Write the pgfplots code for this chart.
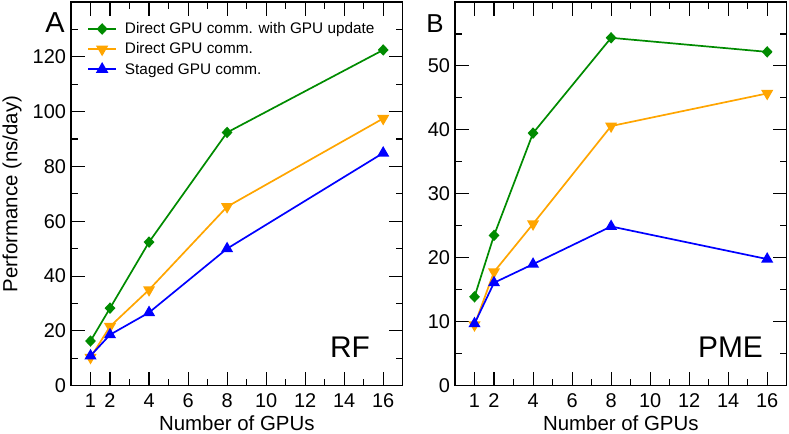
\documentclass[border=0pt]{standalone}
\usepackage{pgfplots}
\pgfplotsset{compat=1.18}
\usepackage{fontspec}
\setmainfont{Liberation Sans}
\definecolor{ggreen}{RGB}{0,139,0}
\definecolor{gorange}{RGB}{255,165,0}
\definecolor{gblue}{RGB}{0,0,255}
\pgfplotsset{
  myaxis/.style={
    scale only axis, width=331.7bp, height=383.7bp,
    anchor=south west,
    xmin=0, xmax=17,
    xtick={1,2,4,6,8,10,12,14,16}, minor xtick={3,5,7,9,11,13,15},
    major tick length=14bp, minor tick length=7bp,
    tick style={black, line width=1.1bp},
    axis line style={black, line width=1.3bp},
    /pgf/number format/assume math mode=true,
    tick label style={font=\fontsize{20}{23}\selectfont},
    xticklabel style={yshift=-4.4bp},
    yticklabel style={xshift=-1.5bp},
    label style={font=\fontsize{20.5}{24}\selectfont},
    xlabel={Number of GPUs},
    xlabel style={at={(rel axis cs:0.5,0)}, anchor=base, yshift=-44.3bp},
    every axis plot/.append style={line width=1.7bp},
  },
  gser/.style={color=ggreen, mark=diamond*, mark size=4.5bp, mark options={solid, xscale=1.25}},
  oser/.style={color=gorange, mark=triangle*, mark size=5.3bp, mark options={solid, rotate=180}},
  bser/.style={color=gblue, mark=triangle*, mark size=5.3bp, mark options={solid}},
}
\begin{document}
\begin{tikzpicture}
\useasboundingbox (0,0) rectangle (789bp,434bp);
\begin{axis}[myaxis, at={(71bp,48.3bp)},
  ymin=0, ymax=140, ytick={0,20,...,120}, minor ytick={10,30,...,130},
  ylabel={Performance (ns/day)},
  ylabel style={at={(rel axis cs:-0.1779,0.5)}, anchor=center},
  legend style={draw=none, fill=none, at={(rel axis cs:0,1)}, anchor=north west,
    xshift=13bp, yshift=-17.5bp, font=\fontsize{15.4}{18}\selectfont, row sep=5.5bp,
    nodes={inner sep=1bp}},
  legend cell align=left,
  legend image code/.code={\draw[line width=1.9bp, mark repeat=2,mark phase=2] plot coordinates {(0bp,0bp)(14bp,0bp)(28bp,0bp)}; \path (0bp,0bp) (35bp,0bp);},
]
\addplot[gser] coordinates {(1,16.3)(2,28.3)(4,52.4)(8,92.4)(16,122.5)};
\addlegendentry{Direct GPU comm. with GPU update}
\addplot[oser] coordinates {(1,10.3)(2,21.6)(4,35.0)(8,65.3)(16,97.5)};
\addlegendentry{Direct GPU comm.}
\addplot[bser] coordinates {(1,10.9)(2,18.6)(4,26.7)(8,50.0)(16,84.9)};
\addlegendentry{Staged GPU comm.}
\end{axis}
\begin{axis}[myaxis, at={(455bp,48.3bp)},
  ymin=0, ymax=60, ytick={0,10,...,50}, minor ytick={5,15,...,55},
]
\addplot[gser] coordinates {(1,13.9)(2,23.5)(4,39.5)(8,54.4)(16,52.2)};
\addplot[oser] coordinates {(1,9.5)(2,17.8)(4,25.3)(8,40.6)(16,45.7)};
\addplot[bser] coordinates {(1,9.7)(2,16.1)(4,19.0)(8,24.9)(16,19.8)};
\end{axis}
\node[font=\fontsize{29}{32}\selectfont, anchor=base] at (55bp,401.7bp) {A};
\node[font=\fontsize{26}{30}\selectfont, anchor=base] at (435bp,401.7bp) {B};
\node[font=\fontsize{30}{34}\selectfont, anchor=base] at (350bp,76.3bp) {RF};
\node[font=\fontsize{30}{34}\selectfont, anchor=base] at (730.5bp,76.3bp) {PME};
\end{tikzpicture}
\end{document}
